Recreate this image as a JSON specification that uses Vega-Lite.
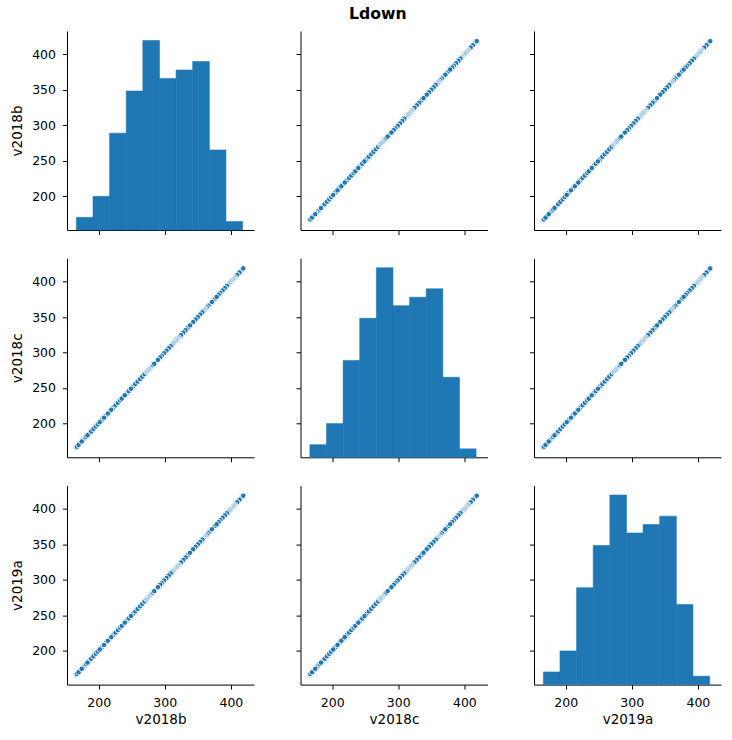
{
  "$schema": "https://vega.github.io/schema/vega-lite/v6.json",
  "padding": {"left": 10, "top": 6, "right": 5, "bottom": 5},
  "title": {"text": "Ldown", "font": "DejaVu Sans", "fontSize": 15.7, "fontWeight": "bold", "color": "black", "anchor": "middle", "offset": 8, "dx": 12},
  "datasets": {
    "points": [
      {"v2018b": 166, "v2018c": 166, "v2019a": 166},
      {"v2018b": 167, "v2018c": 167, "v2019a": 167},
      {"v2018b": 171.5, "v2018c": 171.5, "v2019a": 171.5},
      {"v2018b": 177, "v2018c": 177, "v2019a": 177},
      {"v2018b": 179, "v2018c": 179, "v2019a": 179},
      {"v2018b": 181, "v2018c": 181, "v2019a": 181},
      {"v2018b": 185, "v2018c": 185, "v2019a": 185},
      {"v2018b": 188.5, "v2018c": 188.5, "v2019a": 188.5},
      {"v2018b": 192, "v2018c": 192, "v2019a": 192},
      {"v2018b": 195.5, "v2018c": 195.5, "v2019a": 195.5},
      {"v2018b": 198.5, "v2018c": 198.5, "v2019a": 198.5},
      {"v2018b": 204.5, "v2018c": 204.5, "v2019a": 204.5},
      {"v2018b": 211, "v2018c": 211, "v2019a": 211},
      {"v2018b": 216.5, "v2018c": 216.5, "v2019a": 216.5},
      {"v2018b": 222, "v2018c": 222, "v2019a": 222},
      {"v2018b": 225.5, "v2018c": 225.5, "v2019a": 225.5},
      {"v2018b": 229, "v2018c": 229, "v2019a": 229},
      {"v2018b": 232.5, "v2018c": 232.5, "v2019a": 232.5},
      {"v2018b": 242.5, "v2018c": 242.5, "v2019a": 242.5},
      {"v2018b": 245.5, "v2018c": 245.5, "v2019a": 245.5},
      {"v2018b": 252, "v2018c": 252, "v2019a": 252},
      {"v2018b": 255.5, "v2018c": 255.5, "v2019a": 255.5},
      {"v2018b": 259, "v2018c": 259, "v2019a": 259},
      {"v2018b": 262.5, "v2018c": 262.5, "v2019a": 262.5},
      {"v2018b": 266, "v2018c": 266, "v2019a": 266},
      {"v2018b": 269.5, "v2018c": 269.5, "v2019a": 269.5},
      {"v2018b": 272.5, "v2018c": 272.5, "v2019a": 272.5},
      {"v2018b": 273.7, "v2018c": 273.7, "v2019a": 273.7},
      {"v2018b": 274.9, "v2018c": 274.9, "v2019a": 274.9},
      {"v2018b": 276.1, "v2018c": 276.1, "v2019a": 276.1},
      {"v2018b": 277.3, "v2018c": 277.3, "v2019a": 277.3},
      {"v2018b": 278.5, "v2018c": 278.5, "v2019a": 278.5},
      {"v2018b": 279.7, "v2018c": 279.7, "v2019a": 279.7},
      {"v2018b": 280.9, "v2018c": 280.9, "v2019a": 280.9},
      {"v2018b": 282.1, "v2018c": 282.1, "v2019a": 282.1},
      {"v2018b": 284, "v2018c": 284, "v2019a": 284},
      {"v2018b": 416.5, "v2018c": 416.5, "v2019a": 416.5},
      {"v2018b": 413, "v2018c": 413, "v2019a": 413},
      {"v2018b": 409.5, "v2018c": 409.5, "v2019a": 409.5},
      {"v2018b": 406, "v2018c": 406, "v2019a": 406},
      {"v2018b": 404.8, "v2018c": 404.8, "v2019a": 404.8},
      {"v2018b": 403.6, "v2018c": 403.6, "v2019a": 403.6},
      {"v2018b": 402.4, "v2018c": 402.4, "v2019a": 402.4},
      {"v2018b": 401.2, "v2018c": 401.2, "v2019a": 401.2},
      {"v2018b": 400, "v2018c": 400, "v2019a": 400},
      {"v2018b": 398.8, "v2018c": 398.8, "v2019a": 398.8},
      {"v2018b": 397.6, "v2018c": 397.6, "v2019a": 397.6},
      {"v2018b": 396.4, "v2018c": 396.4, "v2019a": 396.4},
      {"v2018b": 395.2, "v2018c": 395.2, "v2019a": 395.2},
      {"v2018b": 394, "v2018c": 394, "v2019a": 394},
      {"v2018b": 391, "v2018c": 391, "v2019a": 391},
      {"v2018b": 387.5, "v2018c": 387.5, "v2019a": 387.5},
      {"v2018b": 384, "v2018c": 384, "v2019a": 384},
      {"v2018b": 381.5, "v2018c": 381.5, "v2019a": 381.5},
      {"v2018b": 376, "v2018c": 376, "v2019a": 376},
      {"v2018b": 369, "v2018c": 369, "v2019a": 369},
      {"v2018b": 366, "v2018c": 366, "v2019a": 366},
      {"v2018b": 363.5, "v2018c": 363.5, "v2019a": 363.5},
      {"v2018b": 361.5, "v2018c": 361.5, "v2019a": 361.5},
      {"v2018b": 360.3, "v2018c": 360.3, "v2019a": 360.3},
      {"v2018b": 359.1, "v2018c": 359.1, "v2019a": 359.1},
      {"v2018b": 357.9, "v2018c": 357.9, "v2019a": 357.9},
      {"v2018b": 356.7, "v2018c": 356.7, "v2019a": 356.7},
      {"v2018b": 353.5, "v2018c": 353.5, "v2019a": 353.5},
      {"v2018b": 350, "v2018c": 350, "v2019a": 350},
      {"v2018b": 346.5, "v2018c": 346.5, "v2019a": 346.5},
      {"v2018b": 343, "v2018c": 343, "v2019a": 343},
      {"v2018b": 335, "v2018c": 335, "v2019a": 335},
      {"v2018b": 331.5, "v2018c": 331.5, "v2019a": 331.5},
      {"v2018b": 328, "v2018c": 328, "v2019a": 328},
      {"v2018b": 324.5, "v2018c": 324.5, "v2019a": 324.5},
      {"v2018b": 321, "v2018c": 321, "v2019a": 321},
      {"v2018b": 319.8, "v2018c": 319.8, "v2019a": 319.8},
      {"v2018b": 318.6, "v2018c": 318.6, "v2019a": 318.6},
      {"v2018b": 317.4, "v2018c": 317.4, "v2019a": 317.4},
      {"v2018b": 316.2, "v2018c": 316.2, "v2019a": 316.2},
      {"v2018b": 315, "v2018c": 315, "v2019a": 315},
      {"v2018b": 313.8, "v2018c": 313.8, "v2019a": 313.8},
      {"v2018b": 312.6, "v2018c": 312.6, "v2019a": 312.6},
      {"v2018b": 311.4, "v2018c": 311.4, "v2019a": 311.4},
      {"v2018b": 310.2, "v2018c": 310.2, "v2019a": 310.2},
      {"v2018b": 309, "v2018c": 309, "v2019a": 309},
      {"v2018b": 306, "v2018c": 306, "v2019a": 306},
      {"v2018b": 302.5, "v2018c": 302.5, "v2019a": 302.5},
      {"v2018b": 299, "v2018c": 299, "v2019a": 299},
      {"v2018b": 295.5, "v2018c": 295.5, "v2019a": 295.5},
      {"v2018b": 293, "v2018c": 293, "v2019a": 293},
      {"v2018b": 169.5, "v2018c": 169.5, "v2019a": 169.5},
      {"v2018b": 174.3, "v2018c": 174.3, "v2019a": 174.3},
      {"v2018b": 183, "v2018c": 183, "v2019a": 183},
      {"v2018b": 201.5, "v2018c": 201.5, "v2019a": 201.5},
      {"v2018b": 208, "v2018c": 208, "v2019a": 208},
      {"v2018b": 213.8, "v2018c": 213.8, "v2019a": 213.8},
      {"v2018b": 219, "v2018c": 219, "v2019a": 219},
      {"v2018b": 234.9, "v2018c": 234.9, "v2019a": 234.9},
      {"v2018b": 239.5, "v2018c": 239.5, "v2019a": 239.5},
      {"v2018b": 248.8, "v2018c": 248.8, "v2019a": 248.8},
      {"v2018b": 289.6, "v2018c": 289.6, "v2019a": 289.6},
      {"v2018b": 338.2, "v2018c": 338.2, "v2019a": 338.2},
      {"v2018b": 371.3, "v2018c": 371.3, "v2019a": 371.3},
      {"v2018b": 378.5, "v2018c": 378.5, "v2019a": 378.5},
      {"v2018b": 418.7, "v2018c": 418.7, "v2019a": 418.7}
    ],
    "hist": [
      {"variable": "v2018b", "bin_start": 166.2, "bin_end": 191.35, "count": 3},
      {"variable": "v2018b", "bin_start": 191.35, "bin_end": 216.5, "count": 8},
      {"variable": "v2018b", "bin_start": 216.5, "bin_end": 241.65, "count": 23},
      {"variable": "v2018b", "bin_start": 241.65, "bin_end": 266.8, "count": 33},
      {"variable": "v2018b", "bin_start": 266.8, "bin_end": 291.95, "count": 45},
      {"variable": "v2018b", "bin_start": 291.95, "bin_end": 317.1, "count": 36},
      {"variable": "v2018b", "bin_start": 317.1, "bin_end": 342.25, "count": 38},
      {"variable": "v2018b", "bin_start": 342.25, "bin_end": 367.4, "count": 40},
      {"variable": "v2018b", "bin_start": 367.4, "bin_end": 392.55, "count": 19},
      {"variable": "v2018b", "bin_start": 392.55, "bin_end": 417.7, "count": 2},
      {"variable": "v2018c", "bin_start": 166.2, "bin_end": 191.35, "count": 3},
      {"variable": "v2018c", "bin_start": 191.35, "bin_end": 216.5, "count": 8},
      {"variable": "v2018c", "bin_start": 216.5, "bin_end": 241.65, "count": 23},
      {"variable": "v2018c", "bin_start": 241.65, "bin_end": 266.8, "count": 33},
      {"variable": "v2018c", "bin_start": 266.8, "bin_end": 291.95, "count": 45},
      {"variable": "v2018c", "bin_start": 291.95, "bin_end": 317.1, "count": 36},
      {"variable": "v2018c", "bin_start": 317.1, "bin_end": 342.25, "count": 38},
      {"variable": "v2018c", "bin_start": 342.25, "bin_end": 367.4, "count": 40},
      {"variable": "v2018c", "bin_start": 367.4, "bin_end": 392.55, "count": 19},
      {"variable": "v2018c", "bin_start": 392.55, "bin_end": 417.7, "count": 2},
      {"variable": "v2019a", "bin_start": 166.2, "bin_end": 191.35, "count": 3},
      {"variable": "v2019a", "bin_start": 191.35, "bin_end": 216.5, "count": 8},
      {"variable": "v2019a", "bin_start": 216.5, "bin_end": 241.65, "count": 23},
      {"variable": "v2019a", "bin_start": 241.65, "bin_end": 266.8, "count": 33},
      {"variable": "v2019a", "bin_start": 266.8, "bin_end": 291.95, "count": 45},
      {"variable": "v2019a", "bin_start": 291.95, "bin_end": 317.1, "count": 36},
      {"variable": "v2019a", "bin_start": 317.1, "bin_end": 342.25, "count": 38},
      {"variable": "v2019a", "bin_start": 342.25, "bin_end": 367.4, "count": 40},
      {"variable": "v2019a", "bin_start": 367.4, "bin_end": 392.55, "count": 19},
      {"variable": "v2019a", "bin_start": 392.55, "bin_end": 417.7, "count": 2}
    ]
  },
  "columns": 3,
  "spacing": {"row": 28.3, "column": 46.5},
  "bounds": "flush",
  "concat": [
    {
      "width": 187, "height": 199,
      "layer": [
        {
          "data": {"name": "hist"},
          "transform": [{"filter": "datum.variable === 'v2018b'"}],
          "mark": {"type": "bar", "fill": "#1f77b4", "stroke": "#1f77b4", "strokeWidth": 0.6, "binSpacing": 0},
          "encoding": {
            "x": {"field": "bin_start", "type": "quantitative", "scale": {"domain": [152, 435], "nice": false, "zero": false}, "axis": {"values": [200, 300, 400], "labels": false, "title": null}},
            "x2": {"field": "bin_end"},
            "y": {"field": "count", "type": "quantitative", "scale": {"domain": [0, 47.25], "nice": false}, "axis": null},
            "y2": {"datum": 0}
          }
        },
        {
          "data": {"name": "points"},
          "mark": {"type": "circle", "opacity": 0},
          "encoding": {
            "x": {"field": "v2018b", "type": "quantitative"},
            "y": {"field": "v2018b", "type": "quantitative", "scale": {"domain": [152, 433], "nice": false, "zero": false}, "axis": {"orient": "left", "values": [200, 250, 300, 350, 400], "title": "v2018b"}}
          }
        }
      ],
      "resolve": {"scale": {"y": "independent"}}
    },
    {
      "width": 187, "height": 199,
      "data": {"name": "points"},
      "mark": {"type": "circle", "size": 30, "fill": "#1f77b4", "stroke": "white", "strokeWidth": 0.9, "opacity": 1},
      "encoding": {
        "x": {"field": "v2018c", "type": "quantitative", "scale": {"domain": [152, 435], "nice": false, "zero": false}, "axis": {"values": [200, 300, 400], "labels": false, "title": null}},
        "y": {"field": "v2018b", "type": "quantitative", "scale": {"domain": [152, 433], "nice": false, "zero": false}, "axis": {"values": [200, 250, 300, 350, 400], "labels": false, "title": null}}
      }
    },
    {
      "width": 187, "height": 199,
      "data": {"name": "points"},
      "mark": {"type": "circle", "size": 30, "fill": "#1f77b4", "stroke": "white", "strokeWidth": 0.9, "opacity": 1},
      "encoding": {
        "x": {"field": "v2019a", "type": "quantitative", "scale": {"domain": [152, 435], "nice": false, "zero": false}, "axis": {"values": [200, 300, 400], "labels": false, "title": null}},
        "y": {"field": "v2018b", "type": "quantitative", "scale": {"domain": [152, 433], "nice": false, "zero": false}, "axis": {"values": [200, 250, 300, 350, 400], "labels": false, "title": null}}
      }
    },
    {
      "width": 187, "height": 199,
      "data": {"name": "points"},
      "mark": {"type": "circle", "size": 30, "fill": "#1f77b4", "stroke": "white", "strokeWidth": 0.9, "opacity": 1},
      "encoding": {
        "x": {"field": "v2018b", "type": "quantitative", "scale": {"domain": [152, 435], "nice": false, "zero": false}, "axis": {"values": [200, 300, 400], "labels": false, "title": null}},
        "y": {"field": "v2018c", "type": "quantitative", "scale": {"domain": [152, 433], "nice": false, "zero": false}, "axis": {"values": [200, 250, 300, 350, 400], "title": "v2018c"}}
      }
    },
    {
      "width": 187, "height": 199,
      "layer": [
        {
          "data": {"name": "hist"},
          "transform": [{"filter": "datum.variable === 'v2018c'"}],
          "mark": {"type": "bar", "fill": "#1f77b4", "stroke": "#1f77b4", "strokeWidth": 0.6, "binSpacing": 0},
          "encoding": {
            "x": {"field": "bin_start", "type": "quantitative", "scale": {"domain": [152, 435], "nice": false, "zero": false}, "axis": {"values": [200, 300, 400], "labels": false, "title": null}},
            "x2": {"field": "bin_end"},
            "y": {"field": "count", "type": "quantitative", "scale": {"domain": [0, 47.25], "nice": false}, "axis": null},
            "y2": {"datum": 0}
          }
        },
        {
          "data": {"name": "points"},
          "mark": {"type": "circle", "opacity": 0},
          "encoding": {
            "x": {"field": "v2018c", "type": "quantitative"},
            "y": {"field": "v2018c", "type": "quantitative", "scale": {"domain": [152, 433], "nice": false, "zero": false}, "axis": {"orient": "left", "values": [200, 250, 300, 350, 400], "labels": false, "title": null}}
          }
        }
      ],
      "resolve": {"scale": {"y": "independent"}}
    },
    {
      "width": 187, "height": 199,
      "data": {"name": "points"},
      "mark": {"type": "circle", "size": 30, "fill": "#1f77b4", "stroke": "white", "strokeWidth": 0.9, "opacity": 1},
      "encoding": {
        "x": {"field": "v2019a", "type": "quantitative", "scale": {"domain": [152, 435], "nice": false, "zero": false}, "axis": {"values": [200, 300, 400], "labels": false, "title": null}},
        "y": {"field": "v2018c", "type": "quantitative", "scale": {"domain": [152, 433], "nice": false, "zero": false}, "axis": {"values": [200, 250, 300, 350, 400], "labels": false, "title": null}}
      }
    },
    {
      "width": 187, "height": 199,
      "data": {"name": "points"},
      "mark": {"type": "circle", "size": 30, "fill": "#1f77b4", "stroke": "white", "strokeWidth": 0.9, "opacity": 1},
      "encoding": {
        "x": {"field": "v2018b", "type": "quantitative", "scale": {"domain": [152, 435], "nice": false, "zero": false}, "axis": {"values": [200, 300, 400], "title": "v2018b"}},
        "y": {"field": "v2019a", "type": "quantitative", "scale": {"domain": [152, 433], "nice": false, "zero": false}, "axis": {"values": [200, 250, 300, 350, 400], "title": "v2019a"}}
      }
    },
    {
      "width": 187, "height": 199,
      "data": {"name": "points"},
      "mark": {"type": "circle", "size": 30, "fill": "#1f77b4", "stroke": "white", "strokeWidth": 0.9, "opacity": 1},
      "encoding": {
        "x": {"field": "v2018c", "type": "quantitative", "scale": {"domain": [152, 435], "nice": false, "zero": false}, "axis": {"values": [200, 300, 400], "title": "v2018c"}},
        "y": {"field": "v2019a", "type": "quantitative", "scale": {"domain": [152, 433], "nice": false, "zero": false}, "axis": {"values": [200, 250, 300, 350, 400], "labels": false, "title": null}}
      }
    },
    {
      "width": 187, "height": 199,
      "layer": [
        {
          "data": {"name": "hist"},
          "transform": [{"filter": "datum.variable === 'v2019a'"}],
          "mark": {"type": "bar", "fill": "#1f77b4", "stroke": "#1f77b4", "strokeWidth": 0.6, "binSpacing": 0},
          "encoding": {
            "x": {"field": "bin_start", "type": "quantitative", "scale": {"domain": [152, 435], "nice": false, "zero": false}, "axis": {"values": [200, 300, 400], "title": "v2019a"}},
            "x2": {"field": "bin_end"},
            "y": {"field": "count", "type": "quantitative", "scale": {"domain": [0, 47.25], "nice": false}, "axis": null},
            "y2": {"datum": 0}
          }
        },
        {
          "data": {"name": "points"},
          "mark": {"type": "circle", "opacity": 0},
          "encoding": {
            "x": {"field": "v2019a", "type": "quantitative"},
            "y": {"field": "v2019a", "type": "quantitative", "scale": {"domain": [152, 433], "nice": false, "zero": false}, "axis": {"orient": "left", "values": [200, 250, 300, 350, 400], "labels": false, "title": null}}
          }
        }
      ],
      "resolve": {"scale": {"y": "independent"}}
    }
  ],
  "config": {
    "view": {"stroke": null},
    "font": "DejaVu Sans",
    "axis": {
      "grid": false,
      "domainColor": "black",
      "domainWidth": 1,
      "tickColor": "black",
      "tickWidth": 1,
      "tickSize": 4.5,
      "labelFont": "DejaVu Sans",
      "labelFontSize": 12.5,
      "labelColor": "black",
      "labelPadding": 7,
      "labelOverlap": false,
      "titleFont": "DejaVu Sans",
      "titleFontSize": 13.5,
      "titleFontWeight": "normal",
      "titleColor": "black"
    },
    "axisX": {"titlePadding": 4},
    "axisY": {"titlePadding": 7}
  }
}
